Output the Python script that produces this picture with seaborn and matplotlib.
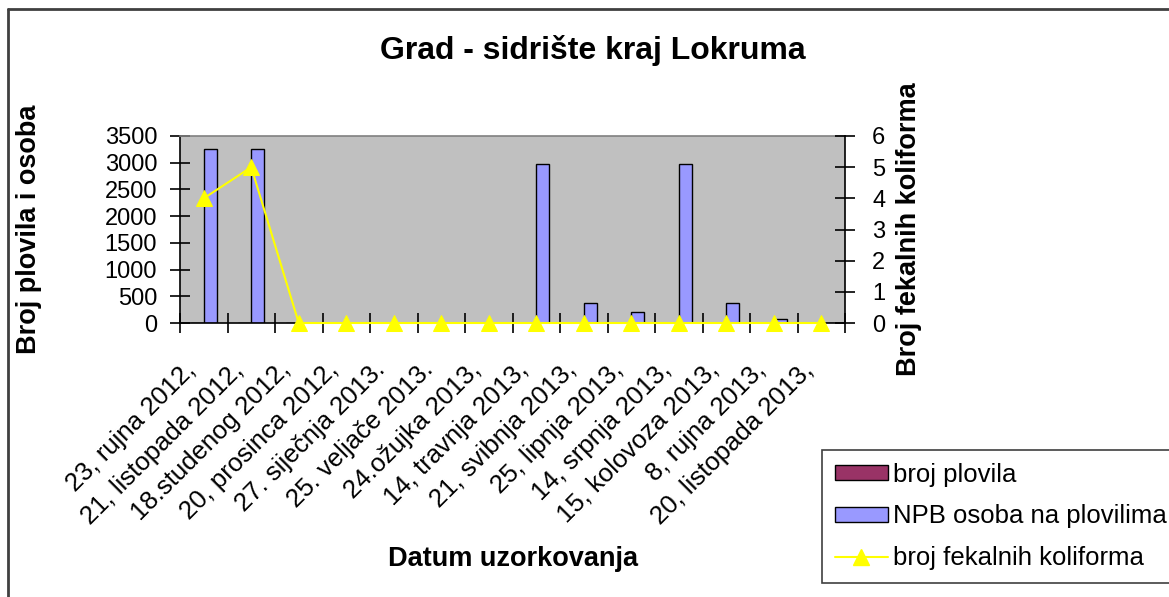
import numpy as np
import pandas as pd
import matplotlib
matplotlib.use("Agg")
import matplotlib.pyplot as plt
from matplotlib.patches import Patch
from matplotlib.lines import Line2D
import seaborn as sns

# Sampling dates
datumi = [
    "23, rujna 2012,", "21, listopada 2012,", "18.studenog 2012,",
    "20, prosinca 2012,", "27. siječnja 2013.", "25. veljače 2013.",
    "24.ožujka 2013,", "14, travnja 2013,", "21, svibnja 2013,",
    "25, lipnja 2013,", "14, srpnja 2013,", "15, kolovoza 2013,",
    "8, rujna 2013,", "20, listopada 2013,",
]
# Number of vessels and persons on vessels (left axis)
broj_plovila = [0, 0, 0, 0, 0, 0, 0, 0, 0, 0, 0, 0, 0, 0]
npb_osoba = [3250, 3250, 0, 0, 0, 0, 0, 2970, 380, 200, 2970, 380, 70, 0]
# Faecal coliform counts (right axis)
koliformi = [4, 5, 0, 0, 0, 0, 0, 0, 0, 0, 0, 0, 0, 0]

serije = ["broj plovila", "NPB osoba na plovilima", "broj fekalnih koliforma"]
boje = ["#993366", "#9999FF", "#FFFF00"]
left_ticks = [0, 500, 1000, 1500, 2000, 2500, 3000, 3500]
right_ticks = [0, 1, 2, 3, 4, 5, 6]

sns.set_theme(style="white")
plt.rcParams["font.family"] = ["Liberation Sans", "DejaVu Sans"]
plt.rcParams.update({
    "text.color": "black",
    "axes.labelcolor": "black",
    "xtick.color": "black",
    "ytick.color": "black",
})

df = pd.DataFrame({
    "datum": datumi * 2,
    "serija": [serije[0]] * len(datumi) + [serije[1]] * len(datumi),
    "vrijednost": broj_plovila + npb_osoba,
})

fig = plt.figure(figsize=(11.69, 5.97), dpi=100)
fig.patch.set_facecolor("white")
ax = fig.add_axes([180 / 1169, 1 - 323 / 597, 665 / 1169, 187 / 597])
ax.set_facecolor("#C0C0C0")

sns.barplot(data=df, x="datum", y="vrijednost", hue="serija",
            hue_order=serije[:2], palette=boje[:2], saturation=1,
            width=0.55, edgecolor="black", linewidth=1.0,
            ax=ax, legend=False)

n = len(datumi)
ax.set_xlim(-0.5, n - 0.5)
ax.set_ylim(0, 3500)
ax.set_yticks(left_ticks)
ax.set_yticklabels([str(t) for t in left_ticks], fontsize=17)
# slanted date labels end slightly left of each category centre
label_offset = 0.25
ax.set_xticks(np.arange(n) - label_offset)
ax.set_xticklabels(datumi, rotation=45, ha="right", va="center",
                   rotation_mode="anchor", fontsize=18.5)
ax.set_xticks(np.arange(-0.5, n, 1), minor=True)
ax.tick_params(axis="x", which="major", length=0, pad=31)
ax.tick_params(axis="x", which="minor", direction="inout", length=15,
               width=1.2, color="black", bottom=True)
ax.tick_params(axis="y", direction="inout", length=15, width=1.2,
               color="black", pad=9, left=True)
ax.set_xlabel("Datum uzorkovanja", fontsize=19.5, fontweight="bold")
ax.set_ylabel("Broj plovila i osoba", fontsize=19.5, fontweight="bold")
ax.xaxis.set_label_coords(0.5, -(546 - 323) / 187)
ax.yaxis.set_label_coords((42 - 180) / 665, 0.5)
for side in ["left", "bottom"]:
    ax.spines[side].set_color("black")
    ax.spines[side].set_linewidth(1.2)
ax.spines["top"].set_color("#808080")
ax.spines["top"].set_linewidth(1.2)
ax.spines["right"].set_visible(False)
ax.grid(False)

ax2 = ax.twinx()
sns.lineplot(x=np.arange(n), y=koliformi, ax=ax2, color=boje[2],
             marker="^", markersize=11, markeredgecolor=boje[2],
             linewidth=1.5, legend=False)
for ln in ax2.lines:
    ln.set_clip_on(False)
ax2.set_xlim(-0.5, n - 0.5)
ax2.set_ylim(0, 6)
ax2.set_yticks(right_ticks)
ax2.set_yticklabels([str(t) for t in right_ticks], fontsize=17)
ax2.tick_params(axis="y", direction="inout", length=15, width=1.2,
                color="black", pad=12, right=True)
ax2.set_ylabel("Broj fekalnih koliforma", fontsize=19.5, fontweight="bold")
ax2.yaxis.set_label_coords((896 - 180) / 665, 0.5)
for side in ["left", "bottom", "top"]:
    ax2.spines[side].set_visible(False)
ax2.spines["right"].set_color("black")
ax2.spines["right"].set_linewidth(1.2)
ax2.grid(False)

fig.text(593 / 1169, 1 - 50 / 597, "Grad - sidrište kraj Lokruma",
         ha="center", va="center", fontsize=23, fontweight="bold")

handles = [
    Patch(facecolor=boje[0], edgecolor="black", linewidth=1),
    Patch(facecolor=boje[1], edgecolor="black", linewidth=1),
    Line2D([0], [0], color=boje[2], marker="^", markersize=11,
           markeredgecolor=boje[2], linewidth=1.5),
]
leg = fig.legend(handles, serije, loc="upper left",
                 bbox_to_anchor=(822 / 1169, 1 - 450 / 597),
                 fontsize=18.5, frameon=True, fancybox=False,
                 edgecolor="#404040", facecolor="white", framealpha=1,
                 handlelength=2.05, handleheight=0.5, handletextpad=0.2,
                 labelspacing=0.68, borderpad=0.5, borderaxespad=0)
leg.get_frame().set_linewidth(1.2)

# outer chart border
fig.add_artist(Line2D([8 / 1169, 8 / 1169], [0, 1 - 9 / 597],
                      transform=fig.transFigure, color="#404040", lw=2))
fig.add_artist(Line2D([8 / 1169, 1], [1 - 9 / 597, 1 - 9 / 597],
                      transform=fig.transFigure, color="#404040", lw=2))

fig.savefig("out.png", dpi=100)
